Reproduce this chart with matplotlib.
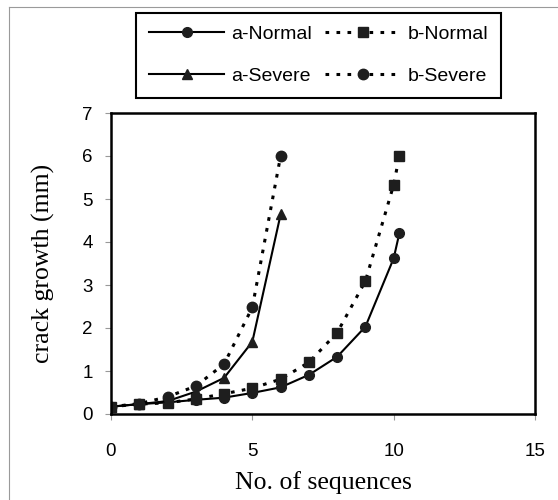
import matplotlib
matplotlib.use("Agg")
import matplotlib.pyplot as plt
from matplotlib.lines import Line2D

# Crack growth per loading sequence, two specimens (a, b) under two spectra
seq_a_normal = [0, 1, 2, 3, 4, 5, 6, 7, 8, 9, 10, 10.2]
crack_a_normal = [0.17, 0.23, 0.27, 0.33, 0.38, 0.49, 0.62, 0.91, 1.33, 2.03, 3.62, 4.2]

seq_b_normal = [0, 1, 2, 3, 4, 5, 6, 7, 8, 9, 10, 10.2]
crack_b_normal = [0.17, 0.23, 0.26, 0.35, 0.47, 0.60, 0.81, 1.20, 1.89, 3.09, 5.33, 6.0]

seq_a_severe = [0, 1, 2, 3, 4, 5, 6]
crack_a_severe = [0.17, 0.23, 0.30, 0.52, 0.84, 1.68, 4.64]

seq_b_severe = [0, 1, 2, 3, 4, 5, 6]
crack_b_severe = [0.17, 0.24, 0.40, 0.65, 1.16, 2.48, 6.0]

x_ticks = [0, 5, 10, 15]
y_ticks = [0, 1, 2, 3, 4, 5, 6, 7]

W, H = 558, 500
fig = plt.figure(figsize=(W / 100, H / 100), dpi=100)
ax = fig.add_axes([111 / W, 1 - 414 / H, 424 / W, 301 / H])

mk = "#1e1e1e"
dot = (0, (1.2, 2.4))
common = dict(color="black", markerfacecolor=mk, markeredgecolor=mk)

h1, = ax.plot(seq_a_normal, crack_a_normal, "-", marker="o", ms=7, lw=1.5,
              label="a-Normal", **common)
h2, = ax.plot(seq_b_normal, crack_b_normal, linestyle=dot, marker="s", ms=7, lw=2.2,
              label="b-Normal", **common)
h3, = ax.plot(seq_a_severe, crack_a_severe, "-", marker="^", ms=7.5, lw=1.5,
              label="a-Severe", **common)
h4, = ax.plot(seq_b_severe, crack_b_severe, linestyle=dot, marker="o", ms=7.5, lw=2.2,
              label="b-Severe", **common)

ax.set_xlim(0, 15)
ax.set_ylim(0, 7)
ax.set_xticks(x_ticks)
ax.set_yticks(y_ticks)

tick_font = dict(family="Liberation Sans", size=13.5)
ax.set_xticklabels([str(v) for v in x_ticks], fontdict=tick_font)
ax.set_yticklabels([str(v) for v in y_ticks], fontdict=tick_font)
ax.tick_params(axis="both", direction="out", length=4, width=0.8, color="#999999")
ax.tick_params(axis="x", pad=17)
ax.tick_params(axis="y", pad=9)

for side in ["left", "bottom", "top", "right"]:
    ax.spines[side].set_linewidth(1.8)
    ax.spines[side].set_color("black")

label_font = dict(family="Liberation Serif", size=18.5)
ax.set_xlabel("No. of sequences", fontdict=label_font, labelpad=8)
ax.set_ylabel("crack growth (mm)", fontdict=label_font, labelpad=20)

leg = fig.legend(handles=[h1, h3, h2, h4], ncol=2, loc="upper left",
                 bbox_to_anchor=(136 / W, 1 - 13 / H),
                 prop=dict(family="Liberation Sans", size=14),
                 frameon=True, fancybox=False, framealpha=1,
                 edgecolor="black", handlelength=3.9, handletextpad=0.35,
                 columnspacing=0.65, labelspacing=1.25, borderpad=0.65,
                 borderaxespad=0)
leg.get_frame().set_linewidth(1.5)

# thin outer border of the figure
fig.add_artist(Line2D([9 / W, 9 / W], [0, 1 - 7 / H], transform=fig.transFigure,
                      color="#9a9a9a", lw=0.8))
fig.add_artist(Line2D([9 / W, 1], [1 - 7 / H, 1 - 7 / H], transform=fig.transFigure,
                      color="#9a9a9a", lw=0.8))

fig.savefig("out.png", dpi=100)
